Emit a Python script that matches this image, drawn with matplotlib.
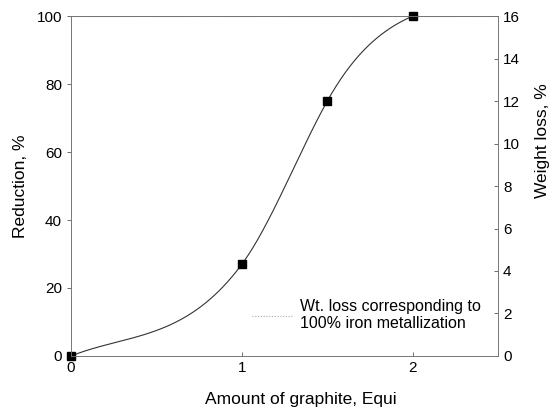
import matplotlib.pyplot as plt
import numpy as np

plt.rcParams['font.family'] = ['Liberation Sans', 'DejaVu Sans']

# Reduction vs. graphite addition
graphite = [0, 1, 1.5, 2]
reduction = [0, 27, 75, 100]

# weight loss that corresponds to full iron metallization
full_metal_wt_loss = 16
wt_loss_max = 16

# tangents used for the smooth connecting line (%/Equi)
curve_slopes = [20, 68, 90, 22]


def hermite_curve(x, y, m, xs):
    # piecewise cubic Hermite through the points, just for drawing the line
    x = np.asarray(x, float)
    y = np.asarray(y, float)
    m = np.asarray(m, float)
    idx = np.clip(np.searchsorted(x, xs) - 1, 0, len(x) - 2)
    h = x[idx + 1] - x[idx]
    t = (xs - x[idx]) / h
    h00 = 2 * t ** 3 - 3 * t ** 2 + 1
    h10 = t ** 3 - 2 * t ** 2 + t
    h01 = -2 * t ** 3 + 3 * t ** 2
    h11 = t ** 3 - t ** 2
    return h00 * y[idx] + h10 * h * m[idx] + h01 * y[idx + 1] + h11 * h * m[idx + 1]


fig, ax = plt.subplots(figsize=(5.51, 4.12), dpi=100)
fig.subplots_adjust(left=0.129, right=0.904, top=0.961, bottom=0.136)

xs = np.linspace(graphite[0], graphite[-1], 300)
ax.plot(xs, hermite_curve(graphite, reduction, curve_slopes, xs), color='#333333', lw=0.8)
ax.plot(graphite, reduction, 's', color='black', ms=6, clip_on=False, zorder=5)

ax.set_xlim(0, 2.5)
ax.set_ylim(0, 100)
ax.set_xticks([0, 1, 2])
ax.set_yticks(range(0, 101, 20))
ax.set_xlabel('Amount of graphite, Equi', fontsize=12.5)
ax.xaxis.set_label_coords(0.538, -0.107)
ax.set_ylabel('Reduction, %', fontsize=12.5)
ax.yaxis.set_label_coords(-0.100, 0.5)
ax.tick_params(labelsize=11, width=0.6, length=3, color='#555555')
ax.tick_params(axis='x', direction='in')

for s in ax.spines.values():
    s.set_linewidth(0.6)
    s.set_color('#777777')

ax2 = ax.twinx()
ax2.set_ylim(0, wt_loss_max)
ax2.set_yticks(range(0, 17, 2))
ax2.set_ylabel('Weight loss, %', fontsize=12.5)
ax2.yaxis.set_label_coords(1.087, 0.635)
ax2.tick_params(labelsize=11, width=0.6, length=3, color='#555555', direction='in')
for s in ax2.spines.values():
    s.set_linewidth(0.6)
    s.set_color('#777777')

ax2.axhline(full_metal_wt_loss, color='#555555', lw=0.8, ls=(0, (1, 1.5)), zorder=1,
            label='Wt. loss corresponding to\n100% iron metallization')
leg = ax2.legend(loc='center left', bbox_to_anchor=(0.424, 0.12), frameon=False,
                 fontsize=11.5, handlelength=2.5, handletextpad=0.5,
                 borderpad=0, borderaxespad=0)
leg.get_lines()[0].set_color('#aaaaaa')

fig.savefig('out.png', dpi=100)
